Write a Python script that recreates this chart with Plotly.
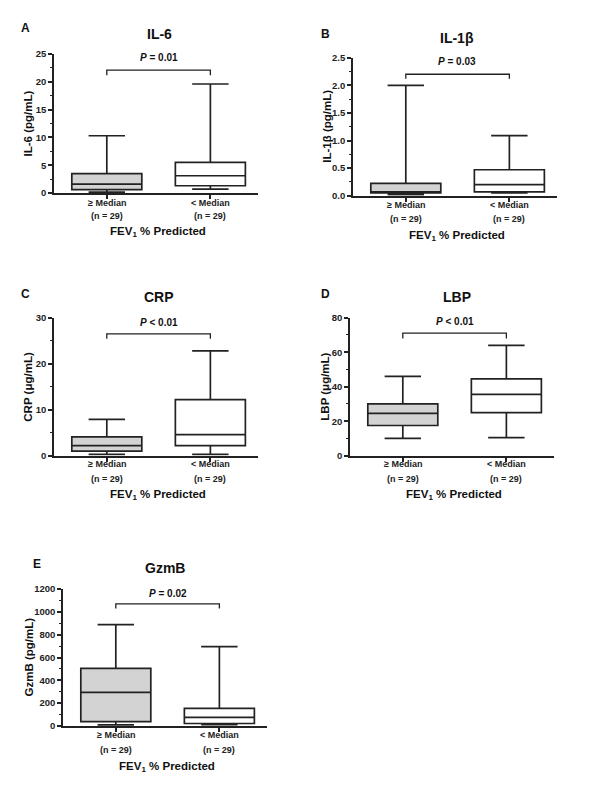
import plotly.graph_objects as go

# ---------------- data ----------------
panel_letters = ["A", "B", "C", "D", "E"]
titles = ["IL-6", "IL-1β", "CRP", "LBP", "GzmB"]
y_titles = ["IL-6 (pg/mL)", "IL-1β (pg/mL)", "CRP (μg/mL)", "LBP (μg/mL)", "GzmB (pg/mL)"]
p_labels = ["<i>P</i> = 0.01", "<i>P</i> = 0.03", "<i>P</i> &lt; 0.01", "<i>P</i> &lt; 0.01", "<i>P</i> = 0.02"]
categories = ["≥ Median", "&lt; Median"]
n_labels = ["(n = 29)", "(n = 29)"]
x_title = "FEV<sub>1</sub> % Predicted"

# group ">= Median" (grey)
hi_low = [0.15, 0.02, 0.3, 10, 9]
hi_q1 = [0.6, 0.05, 1.0, 17.5, 38]
hi_med = [1.6, 0.07, 2.2, 24.5, 295]
hi_q3 = [3.5, 0.225, 4.1, 30, 505]
hi_high = [10.3, 2.0, 7.9, 46, 888]
# group "< Median" (white)
lo_low = [0.7, 0.05, 0.3, 10.5, 12]
lo_q1 = [1.3, 0.07, 2.2, 25, 22]
lo_med = [3.1, 0.2, 4.6, 35.5, 76]
lo_q3 = [5.5, 0.47, 12.2, 44.5, 155]
lo_high = [19.6, 1.09, 22.8, 64, 695]

# significance bracket (top and tip level)
bracket_top = [22.1, 2.2, 26.5, 71, 1069]
bracket_tip = [21.2, 2.12, 25.4, 68, 1030]

# axis ranges / ticks
y_max = [25, 2.5, 30, 80, 1200]
y_dtick = [5, 0.5, 10, 20, 200]
y_minor = [2.5, 0.25, 5, 10, 100]
y_fmt = ["d", ".1f", "d", "d", "d"]

# ---------------- layout geometry (page pixels) ----------------
W, H = 600, 795
def fx(x): return x / W
def fy(y): return 1 - y / H

# left px of y axis, top px, bottom px
dom_px = [
    (54, 54, 193),
    (353, 57.7, 195.7),
    (54, 317.7, 455.7),
    (350, 317.7, 455.7),
    (63, 589, 726),
]
AX_W = 204
XR = [-0.51, 1.46]
BOX_W = 0.676

letter_pos = [(25, 28), (325, 34), (25, 294), (325, 294), (37, 564)]
title_pos = [(159, 34), (457, 38), (159, 297), (457, 297), (165, 568)]
p_pos = [(159, 57.5), (457, 62), (159, 322), (455, 321), (168, 593)]
ytitle_x = [28, 327, 28, 325, 28]
cat_y = [202.5, 205, 464, 464, 735]
n_y = [216, 219, 479, 479, 750]
xtitle_y = [232, 236, 495, 495, 767]

FONT = "Liberation Sans, Arial, sans-serif"
LC = "#222222"

fig = go.Figure()
annotations = []
layout_axes = {}

for i in range(5):
    ax = "" if i == 0 else str(i + 1)
    xa, ya = "x" + ax, "y" + ax
    l, t, b = dom_px[i]
    layout_axes["xaxis" + ax] = dict(
        domain=[fx(l), fx(l + AX_W)], range=XR, anchor=ya, automargin=False,
        tickvals=[0, 1], showticklabels=False,
        showgrid=False, zeroline=False, showline=True, linecolor=LC, linewidth=1.6,
        ticks="outside", ticklen=4, tickwidth=1.5, tickcolor=LC,
    )
    layout_axes["yaxis" + ax] = dict(
        domain=[fy(b), fy(t)], range=[0, y_max[i]], anchor=xa, automargin=False,
        dtick=y_dtick[i], tick0=0, tickformat=y_fmt[i],
        showgrid=False, zeroline=False, showline=True, linecolor=LC, linewidth=1.6,
        ticks="outside", ticklen=4, tickwidth=1.5, tickcolor=LC,
        tickfont=dict(family=FONT, size=9.5, color="#222", weight="bold"),
        minor=dict(dtick=y_minor[i], ticks="outside", ticklen=2.5, tickwidth=1.2, tickcolor=LC),
    )
    groups = [
        (0, hi_low[i], hi_q1[i], hi_med[i], hi_q3[i], hi_high[i], "#d3d3d3"),
        (1, lo_low[i], lo_q1[i], lo_med[i], lo_q3[i], lo_high[i], "#ffffff"),
    ]
    for xpos, lf, q1, med, q3, uf, fc in groups:
        fig.add_trace(go.Box(
            x=[xpos], q1=[q1], median=[med], q3=[q3], lowerfence=[lf], upperfence=[uf],
            width=BOX_W, whiskerwidth=0.52, fillcolor=fc,
            line=dict(color=LC, width=1.7), boxpoints=False,
            xaxis=xa, yaxis=ya, hoverinfo="skip", showlegend=False,
        ))
    fig.add_trace(go.Scatter(
        x=[0, 0, 1, 1], y=[bracket_tip[i], bracket_top[i], bracket_top[i], bracket_tip[i]],
        mode="lines", line=dict(color=LC, width=1.3), xaxis=xa, yaxis=ya,
        hoverinfo="skip", showlegend=False, cliponaxis=False,
    ))
    for k in range(2):
        annotations.append(dict(
            text=categories[k], x=k, y=fy(cat_y[i]), xref=xa, yref="paper",
            showarrow=False, xanchor="center", yanchor="middle",
            font=dict(family=FONT, size=9, color="#222", weight="bold")))
        annotations.append(dict(
            text=n_labels[k], x=k, y=fy(n_y[i]), xref=xa, yref="paper",
            showarrow=False, xanchor="center", yanchor="middle",
            font=dict(family=FONT, size=9, color="#222", weight="bold")))
    annotations += [
        dict(text=panel_letters[i], x=fx(letter_pos[i][0]), y=fy(letter_pos[i][1]),
             xref="paper", yref="paper", showarrow=False, xanchor="center", yanchor="middle",
             font=dict(family=FONT, size=12, color="#111", weight="bold")),
        dict(text=titles[i], x=fx(title_pos[i][0]), y=fy(title_pos[i][1]),
             xref="paper", yref="paper", showarrow=False, xanchor="center", yanchor="middle",
             font=dict(family=FONT, size=14, color="#111", weight="bold")),
        dict(text=p_labels[i], x=fx(p_pos[i][0]), y=fy(p_pos[i][1]),
             xref="paper", yref="paper", showarrow=False, xanchor="center", yanchor="middle",
             font=dict(family=FONT, size=10, color="#111", weight="bold")),
        dict(text=y_titles[i], x=fx(ytitle_x[i]), y=fy((t + b) / 2),
             xref="paper", yref="paper", showarrow=False, xanchor="center", yanchor="middle",
             textangle=-90, font=dict(family=FONT, size=11.5, color="#111", weight="bold")),
        dict(text=x_title, x=fx(l + 104), y=fy(xtitle_y[i]),
             xref="paper", yref="paper", showarrow=False, xanchor="center", yanchor="middle",
             font=dict(family=FONT, size=11.5, color="#111", weight="bold")),
    ]

fig.update_layout(
    template="none",
    width=W, height=H, margin=dict(l=0, r=0, t=0, b=0, pad=0), autosize=False,
    paper_bgcolor="white", plot_bgcolor="white",
    showlegend=False, boxmode="overlay",
    annotations=annotations, **layout_axes,
)

fig.write_html(
    "out.html",
    config={"displayModeBar": False, "responsive": False},
    post_script="document.body.style.margin='0';document.body.style.overflow='hidden';",
)
